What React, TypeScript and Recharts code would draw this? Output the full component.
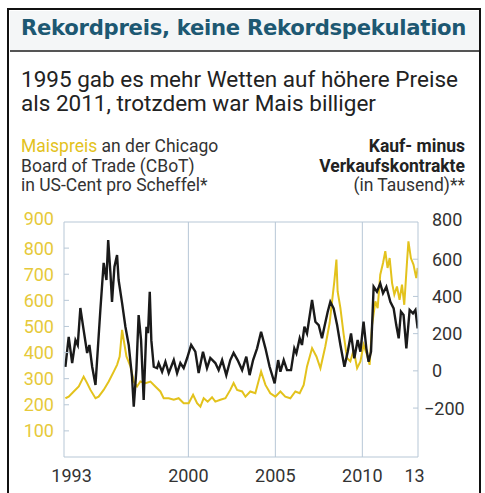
import { LineChart, Line, XAxis, YAxis, ReferenceLine } from 'recharts';

// Maispreis (US-Cent pro Scheffel), linke Achse
const priceYears = [
  1992.93, 1993.12, 1993.41, 1993.7, 1993.98, 1994.18, 1994.37, 1994.66, 1994.84, 1995.13,
  1995.42, 1995.71, 1995.9, 1996.05, 1996.19, 1996.28, 1996.44, 1996.67, 1996.86, 1997.05,
  1997.24, 1997.53, 1997.82, 1998.1, 1998.39, 1998.58, 1998.87, 1999.16, 1999.44, 1999.73,
  2000.02, 2000.27, 2000.5, 2000.69, 2000.88, 2001.11, 2001.36, 2001.55, 2001.84, 2002.13,
  2002.41, 2002.6, 2002.8, 2003.09, 2003.28, 2003.56, 2003.85, 2004.18, 2004.43, 2004.71,
  2005.0, 2005.29, 2005.57, 2005.86, 2006.15, 2006.4, 2006.63, 2006.82, 2007.11, 2007.36,
  2007.59, 2007.87, 2008.12, 2008.26, 2008.39, 2008.51, 2008.58, 2008.74, 2008.93, 2009.12,
  2009.31, 2009.5, 2009.7, 2009.89, 2010.07, 2010.27, 2010.42, 2010.56, 2010.75, 2010.88,
  2011.03, 2011.19, 2011.32, 2011.45, 2011.57, 2011.71, 2011.84, 2011.99, 2012.14, 2012.28,
  2012.41, 2012.57, 2012.65, 2012.79, 2012.94, 2013.1, 2013.18,
];
const priceValues = [
  225, 231, 251, 270, 308, 283, 257, 225, 231, 257,
  289, 327, 353, 385, 487, 449, 385, 347, 289, 270,
  289, 283, 289, 270, 251, 225, 225, 219, 225, 206,
  206, 238, 206, 193, 225, 212, 229, 212, 219, 225,
  257, 283, 257, 251, 231, 251, 244, 327, 276, 244,
  231, 251, 231, 225, 251, 244, 276, 347, 417, 385,
  340, 423, 513, 596, 673, 756, 634, 570, 468, 379,
  366, 410, 340, 366, 430, 391, 353, 506, 596, 570,
  698, 743, 788, 724, 762, 666, 622, 653, 602, 660,
  583, 749, 826, 762, 737, 685, 724,
];

// Kauf- minus Verkaufskontrakte (Tausend), rechte Achse
const netYears = [
  1992.93, 1993.12, 1993.32, 1993.51, 1993.64, 1993.79, 1993.98, 1994.18, 1994.31, 1994.47,
  1994.66, 1994.94, 1995.13, 1995.29, 1995.39, 1995.52, 1995.61, 1995.75, 1995.9, 1995.99,
  1996.19, 1996.38, 1996.57, 1996.76, 1996.86, 1997.01, 1997.14, 1997.28, 1997.43, 1997.59,
  1997.68, 1997.78, 1997.87, 1998.01, 1998.2, 1998.29, 1998.49, 1998.68, 1998.87, 1999.16,
  1999.35, 1999.54, 1999.73, 1999.93, 2000.16, 2000.4, 2000.59, 2000.84, 2001.07, 2001.26,
  2001.55, 2001.74, 2001.94, 2002.18, 2002.41, 2002.6, 2002.83, 2003.09, 2003.33, 2003.52,
  2003.72, 2003.95, 2004.18, 2004.43, 2004.67, 2004.96, 2005.16, 2005.29, 2005.48, 2005.67,
  2005.9, 2006.09, 2006.21, 2006.4, 2006.53, 2006.67, 2006.82, 2007.11, 2007.3, 2007.49,
  2007.68, 2007.82, 2008.01, 2008.16, 2008.35, 2008.55, 2008.74, 2008.97, 2009.16, 2009.35,
  2009.54, 2009.73, 2009.89, 2010.07, 2010.23, 2010.36, 2010.5, 2010.65, 2010.84, 2011.03,
  2011.19, 2011.38, 2011.61, 2011.8, 2011.95, 2012.09, 2012.22, 2012.37, 2012.53, 2012.72,
  2012.91, 2013.05, 2013.18,
];
const netValues = [
  22, 183, 42, 165, 139, 338, 219, 96, 139, 22,
  -76, 327, 580, 488, 703, 526, 371, 560, 622, 488,
  364, 237, 139, -32, -193, 4, 300, 165, -157, 237,
  203, 425, 165, 22, 15, 42, -5, 49, -12, 58,
  -12, 42, 15, 69, 139, 103, -12, 103, 15, 69,
  42, 4, 58, -23, 58, 96, 58, 4, 76, -23,
  58, 121, 210, 121, 22, -67, 58, -5, 58, 4,
  4, 121, 94, 175, 139, 237, 201, 381, 264, 246,
  175, 237, 318, 371, 336, 246, 139, 22, 103, 201,
  67, 166, 103, 264, 121, 49, 103, 452, 425, 470,
  417, 452, 371, 336, 246, 175, 318, 300, 121, 327,
  309, 327, 228,
];

const leftTicks = [100, 200, 300, 400, 500, 600, 700, 800, 900];
const rightTicks = [-200, 0, 200, 400, 600, 800];
const yearTicks = [1993, 2000, 2005, 2010, 2013];

const priceData = priceYears.map((t, i) => ({ t, v: priceValues[i] }));
const netData = netYears.map((t, i) => ({ t, v: netValues[i] }));

const YELLOW = '#e3c21c';
const AXIS = '#b7c7d6';
const FONT = 'Roboto, sans-serif';

function LeftTick({ x, y, payload }: any) {
  const v = payload.value;
  const axisX = x + 10;
  return (
    <g>
      <text x={x} y={v === 900 ? y - 4 : y} textAnchor="end" dominantBaseline="central"
        fill="#e6c93a" fontSize={18} fontFamily={FONT}>{v}</text>
      {v < 900 && <line x1={axisX} x2={axisX + 5} y1={y} y2={y} stroke={AXIS} />}
    </g>
  );
}

function RightTick({ x, y, payload }: any) {
  const v = payload.value;
  const axisX = x - 14;
  return (
    <g>
      <text x={v < 0 ? x - 8 : x} y={v === 800 ? y - 3 : y} textAnchor="start" dominantBaseline="central"
        fill="#333" fontSize={18} fontFamily={FONT}>{v < 0 ? `\u2212${-v}` : v}</text>
      {v < 800 && <line x1={axisX} x2={axisX - 5} y1={y} y2={y} stroke={AXIS} />}
    </g>
  );
}

function YearTick({ x, y, payload }: any) {
  const v = payload.value;
  const label = v === 2013 ? '13' : String(v);
  return (
    <text x={v === 1993 ? x + 5 : x} y={y} textAnchor="middle" dominantBaseline="central"
      fill="#333" fontSize={18} fontFamily={FONT}>{label}</text>
  );
}

export default function App() {
  return (
    <div style={{ position: 'absolute', left: 0, top: 0, width: 485, height: 493, background: '#fff', overflow: 'hidden', fontFamily: FONT }}>
      {/* Rahmen */}
      <div style={{ position: 'absolute', left: 7, top: 8, width: 474, height: 485, borderLeft: '2.5px solid #111', borderTop: '2.5px solid #111', borderRight: '2.5px solid #111', boxSizing: 'border-box' }} />
      <div style={{ position: 'absolute', left: 9.5, top: 10.5, width: 469, height: 39.5, background: '#f4f6f7' }} />
      <div style={{ position: 'absolute', left: 9.5, top: 50, width: 469, height: 2, background: '#555' }} />

      <div style={{ position: 'absolute', left: 21, top: 15, fontSize: 21.2, fontWeight: 700, color: '#1d5872', whiteSpace: 'nowrap', lineHeight: '26px', fontFamily: '"DejaVu Sans", sans-serif', letterSpacing: -0.3 }}>
        Rekordpreis, keine Rekordspekulation
      </div>
      <div style={{ position: 'absolute', left: 21, top: 67, fontSize: 22.5, color: '#222', lineHeight: '24px', whiteSpace: 'nowrap' }}>
        1995 gab es mehr Wetten auf höhere Preise<br />als 2011, trotzdem war Mais billiger
      </div>
      <div style={{ position: 'absolute', left: 21, top: 137, fontSize: 17.5, color: '#333', lineHeight: '19.5px', whiteSpace: 'nowrap' }}>
        <span style={{ color: YELLOW }}>Maispreis</span> an der Chicago<br />Board of Trade (CBoT)<br />in US-Cent pro Scheffel*
      </div>
      <div style={{ position: 'absolute', right: 20, top: 137, fontSize: 17.5, color: '#222', lineHeight: '19.5px', whiteSpace: 'nowrap', textAlign: 'right' }}>
        <b>Kauf- minus</b><br /><b>Verkaufskontrakte</b><br /><span style={{ color: '#333' }}>(in Tausend)**</span>
      </div>

      <div style={{ position: 'absolute', left: 0, top: 0 }}>
        <LineChart width={485} height={493} margin={{ top: 222, right: 0, bottom: 6, left: 0 }}>
          <XAxis type="number" dataKey="t" domain={[1992.85, 2013.2]} ticks={yearTicks} allowDataOverflow
            axisLine={{ stroke: AXIS }} tickLine={false} tickSize={0} tickMargin={18} height={30} tick={<YearTick />} />
          <YAxis yAxisId="left" orientation="left" domain={[0, 900]} ticks={leftTicks} width={64}
            axisLine={{ stroke: AXIS }} tickLine={false} tickSize={0} tickMargin={10} tick={<LeftTick />} />
          <YAxis yAxisId="right" orientation="right" domain={[-463, 800]} ticks={rightTicks} width={67} allowDataOverflow
            axisLine={{ stroke: AXIS }} tickLine={false} tickSize={0} tickMargin={14} tick={<RightTick />} />
          <ReferenceLine yAxisId="left" y={900} stroke={AXIS} />
          <ReferenceLine yAxisId="left" x={2000} stroke={AXIS} />
          <ReferenceLine yAxisId="left" x={2005} stroke={AXIS} />
          <ReferenceLine yAxisId="left" x={2010} stroke={AXIS} />
          <Line yAxisId="left" data={priceData} dataKey="v" type="linear" stroke={YELLOW} strokeWidth={2}
            dot={false} isAnimationActive={false} />
          <Line yAxisId="right" data={netData} dataKey="v" type="linear" stroke="#1a1a1a" strokeWidth={2.4}
            dot={false} isAnimationActive={false} />
        </LineChart>
      </div>
    </div>
  );
}
